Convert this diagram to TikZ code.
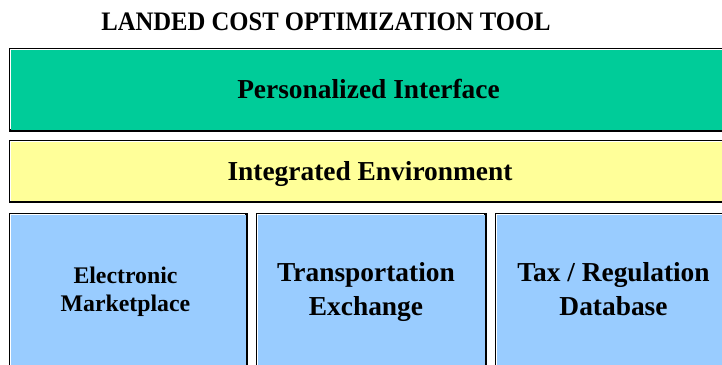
\documentclass[tikz,border=0pt]{standalone}
\usepackage{fontspec}
\setmainfont{Liberation Serif}
\definecolor{pigreen}{HTML}{00CC99}
\definecolor{ieyellow}{HTML}{FFFF99}
\definecolor{modblue}{HTML}{99CCFF}
\tikzset{
  layerbox/.style={draw=black, line width=2pt, inner sep=0pt, anchor=north west},
  hilite/.style={draw=white, line width=0.9pt},
  bigtxt/.style={font=\bfseries\fontsize{27.4}{33.3}\selectfont, align=center, anchor=base, inner sep=0pt},
  smalltxt/.style={font=\bfseries\fontsize{23.8}{28.4}\selectfont, align=center, anchor=base, inner sep=0pt},
}
\begin{document}
\begin{tikzpicture}[x=1pt,y=-1pt]
\useasboundingbox (0,0) rectangle (722,364);
\clip (0,0) rectangle (722,364);
% title
\node[anchor=base, inner sep=0pt, font=\bfseries\fontsize{26.7}{30}\selectfont] (title) at (326,30) {\scalebox{0.924}[1]{LANDED COST OPTIMIZATION TOOL}};
% layers
\node[layerbox, fill=pigreen, minimum width=740pt, minimum height=81.2pt] (pi) at (9.3,48.3) {};
\draw[hilite] (10.9,129) -- (10.9,49.9) -- (745,49.9);
\node[layerbox, fill=ieyellow, minimum width=740pt, minimum height=60.7pt] (ie) at (9.3,140.3) {};
\draw[hilite] (10.9,200.5) -- (10.9,141.9) -- (745,141.9);
\node[layerbox, fill=modblue, minimum width=237pt, minimum height=170pt] (em) at (9.3,212.7) {};
\draw[hilite] (10.9,380) -- (10.9,214.3) -- (245.3,214.3);
\node[layerbox, fill=modblue, minimum width=228.4pt, minimum height=170pt] (te) at (256.3,212.7) {};
\draw[hilite] (257.9,380) -- (257.9,214.3) -- (483.7,214.3);
\node[layerbox, fill=modblue, minimum width=260pt, minimum height=170pt] (tr) at (494.7,212.7) {};
\draw[hilite] (496.3,380) -- (496.3,214.3) -- (760,214.3);
% labels (base anchor = baseline of last line)
\node[bigtxt] (pit) at (368.5,98.3) {Personalized Interface};
\node[bigtxt] (iet) at (370,180) {Integrated Environment};
\node[smalltxt] (emt) at (125.5,311.7) {Electronic\\Marketplace};
\node[bigtxt] (tet) at (366,315) {Transportation\\Exchange};
\node[bigtxt] (trt) at (613.5,315) {Tax / Regulation\\Database};
\end{tikzpicture}
\end{document}
